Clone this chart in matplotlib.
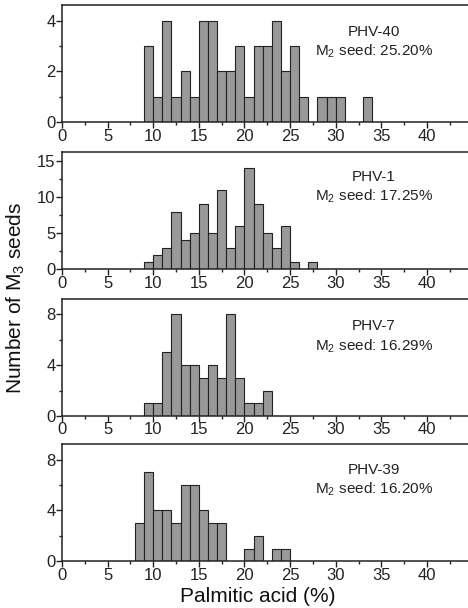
import matplotlib.pyplot as plt
import numpy as np
from matplotlib.ticker import MultipleLocator

plt.rcParams["font.family"] = ["Liberation Sans", "DejaVu Sans"]
plt.rcParams["mathtext.default"] = "regular"

# histogram data: first bin left edge + counts per 1% bin
phv40_start = 9
phv40_counts = [3, 1, 4, 1, 2, 1, 4, 4, 2, 2, 3, 1, 3, 3, 4, 2, 3, 1, 0, 1, 1, 1, 0, 0, 1]
phv1_start = 9
phv1_counts = [1, 2, 3, 8, 4, 5, 9, 5, 11, 3, 6, 14, 9, 5, 3, 6, 1, 0, 1]
phv7_start = 9
phv7_counts = [1, 1, 5, 8, 4, 4, 3, 4, 3, 8, 3, 1, 1, 2]
phv39_start = 8
phv39_counts = [3, 7, 4, 4, 3, 6, 6, 4, 3, 3, 0, 0, 1, 2, 0, 1, 1]

names = ["PHV-40", "PHV-1", "PHV-7", "PHV-39"]
seeds = ["25.20%", "17.25%", "16.29%", "16.20%"]
starts = [phv40_start, phv1_start, phv7_start, phv39_start]
counts = [phv40_counts, phv1_counts, phv7_counts, phv39_counts]
ylims = [4.6, 16.2, 9.2, 9.2]
ymajor = [2, 5, 4, 4]
yminor = [1, 2.5, 2, 2]
text_y = [0.68, 0.70, 0.675, 0.69]

W, H = 468, 608
fig = plt.figure(figsize=(W / 100, H / 100), dpi=100)

tops = [5.3, 152.3, 299, 444.3]
ph = 117.0
left = 62

for i in range(4):
    ax = fig.add_axes([left / W, 1 - (tops[i] + ph) / H, 1 - left / W, ph / H])
    c = np.array(counts[i])
    x = starts[i] + np.arange(len(c))
    m = c > 0
    ax.bar(x[m], c[m], width=1, align="edge", color="#999999",
           edgecolor="#222222", linewidth=0.8)
    ax.set_xlim(0, 44.5)
    ax.set_ylim(0, ylims[i])
    ax.xaxis.set_major_locator(MultipleLocator(5))
    ax.xaxis.set_minor_locator(MultipleLocator(2.5))
    ax.yaxis.set_major_locator(MultipleLocator(ymajor[i]))
    ax.yaxis.set_minor_locator(MultipleLocator(yminor[i]))
    ax.spines["right"].set_visible(False)
    for s in ["left", "top", "bottom"]:
        ax.spines[s].set_linewidth(1.1)
        ax.spines[s].set_color("#222222")
    ax.tick_params(which="major", length=4, width=1, labelsize=12, pad=0.5,
                   color="#222222", labelcolor="#222222")
    ax.tick_params(which="minor", length=2.5, width=1, color="#222222")
    ax.text(0.768, text_y[i], names[i] + "\nM$_2$ seed: " + seeds[i],
            transform=ax.transAxes, ha="center", va="center", fontsize=11,
            linespacing=1.3, color="#222222")

fig.text(258 / W, 1 - 597 / H, "Palmitic acid (%)", ha="center", va="center",
         fontsize=15, color="#111111")
fig.text(15.5 / W, 1 - 298 / H, "Number of M$_3$ seeds", rotation=90,
         ha="center", va="center", fontsize=15, color="#111111")

fig.savefig("out.png", dpi=100)
